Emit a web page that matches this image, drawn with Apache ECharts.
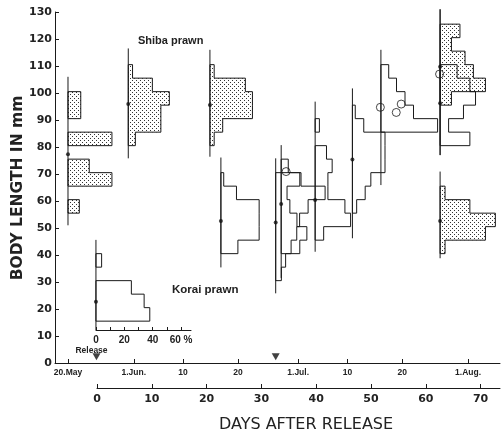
<!DOCTYPE html>
<html><head><meta charset="utf-8">
<script src="https://cdn.jsdelivr.net/npm/echarts@6/dist/echarts.min.js"></script>
<style>html,body{margin:0;padding:0;background:#fff}#c{width:503px;height:433px}</style>
</head><body><div id="c"></div>
<script>
// ---- axes ----
const dateTickDays   = [0, 12, 21, 31, 42, 51, 61, 73];          // days since 20 May
const dateTickLabels = ['20.May', '1.Jun.', '10', '20', '1.Jul.', '10', '20', '1.Aug.'];
const daysAfterTicks = [0, 10, 20, 30, 40, 50, 60, 70];
const pctTicks       = [0, 10, 20, 30, 40, 50, 60];
const pctLabels      = [0, 20, 40, 60];

// ---- samples (one histogram each), day = days since 20 May ----
const sampleDay      = [0, 11, 25.9, 27.9, 37.9, 38.9, 45.1, 51.9, 57.1, 67.9, 67.9, 67.9, 5.1];
const sampleShaded   = [true, true, true, false, false, false, false, false, false, true, false, true, false];
const sampleFirstBin = [55.5, 80.5, 80.5, 40.5, 30.5, 40.5, 45.5, 55.5, 85.5, 95.5, 80.5, 40.5, 15.5];
const samplePercent  = [
  [8, 0, 31, 15, 0, 31, 0, 9, 9],
  [5, 23, 23, 29, 17, 3],
  [3, 9, 30, 30, 25, 3],
  [12, 27, 27, 27, 11, 2],
  [4, 7, 17, 22, 15, 10, 8, 17],
  [7, 11, 13, 19, 31, 14, 5],
  [6, 25, 21, 9, 9, 12, 8, 0, 3],
  [3, 9, 13, 23, 23, 23, 8, 2],
  [40, 23, 17, 11, 5.5],
  [8, 32, 23.5, 17.6, 8, 14],
  [21, 6, 16.5, 25, 21, 12],
  [3.5, 32, 39, 21, 3.5],
  [38, 34, 25, 0, 4]
];
const sampleSpan = [[51, 106], [75.8, 116.5], [76.4, 116], [35.4, 76.1], [25.8, 75.8], [31.5, 80.7],
  [41.2, 96.8], [46.2, 101.7], [65.9, 116], [77, 131], [77, 131], [38.8, 70.9], [12.2, 45.6]];
const sampleMean = [77.3, 95.9, 95.6, 52.6, 52, 58.9, 60.4, 75.4, null, 109.7, 96.2, 52.6, 22.7];

const openCircleDay = [39.8, 57.0, 60.8, 59.9, 67.8];
const openCircleMM  = [70.9, 94.7, 95.9, 92.8, 107];
const markerDay = [5.2, 37.9];
const markerMM  = [2.3, 2.3];

const BIN = 5;
const PCT_DAYS = 1.417 / 5.48;   // horizontal scale of histogram bars (inset % axis)
const INK = '#1a1a1a';

// dotted pattern
const pc = document.createElement('canvas');
pc.width = 4; pc.height = 4;
const pctx = pc.getContext('2d');
pctx.fillStyle = '#fff'; pctx.fillRect(0, 0, 4, 4);
pctx.fillStyle = '#333';
pctx.fillRect(0, 0, 1, 1); pctx.fillRect(2, 2, 1, 1);
const dotted = { image: pc, repeat: 'repeat' };

function renderHist(params, api) {
  const i = params.dataIndex;
  const d = sampleDay[i];
  const children = [];
  const span = sampleSpan[i];
  const a = api.coord([d, span[0]]), b = api.coord([d, span[1]]);
  let run = [];
  const flush = () => {
    if (!run.length) return;
    const pts = [api.coord([d, run[0][0]])];
    run.forEach(([lo, p]) => {
      pts.push(api.coord([d + p * PCT_DAYS, lo]));
      pts.push(api.coord([d + p * PCT_DAYS, lo + BIN]));
    });
    pts.push(api.coord([d, run[run.length - 1][0] + BIN]));
    children.push({ type: 'polygon', shape: { points: pts },
      style: { fill: sampleShaded[i] ? dotted : 'none', stroke: INK, lineWidth: 1 } });
    run = [];
  };
  samplePercent[i].forEach((p, k) => {
    const lo = sampleFirstBin[i] + k * BIN;
    if (p > 0) run.push([lo, p]); else flush();
  });
  flush();
  children.push({ type: 'line', shape: { x1: a[0], y1: a[1], x2: b[0], y2: b[1] },
    style: { stroke: INK, lineWidth: 1 } });
  return { type: 'group', children };
}

const meanData = [];
sampleDay.forEach((d, i) => { if (sampleMean[i] != null) meanData.push([d, sampleMean[i]]); });

const chart = echarts.init(document.getElementById('c'), null, { renderer: 'canvas' });
chart.setOption({
  animation: false,
  backgroundColor: '#fff',
  grid: [
    { left: 55, right: 3, top: 12, bottom: 70 },
    { left: 97, right: 3, top: 387, bottom: 45 },
    { left: 96, width: 95, top: 329, bottom: 103 }
  ],
  xAxis: [
    { gridIndex: 0, type: 'value', min: -2.372, max: 78.83,
      axisLine: { onZero: false, lineStyle: { color: INK, width: 1 } },
      axisTick: { inside: true, length: 4, customValues: dateTickDays, lineStyle: { color: INK } },
      axisLabel: { customValues: dateTickDays, margin: 5, fontSize: 8.5, fontWeight: 'bold', fontFamily: 'Liberation Sans', color: '#222',
        formatter: v => { let k = 0, best = 1e9; dateTickDays.forEach((t, j) => { if (Math.abs(t - v) < best) { best = Math.abs(t - v); k = j; } }); return dateTickLabels[k]; } },
      splitLine: { show: false } },
    { gridIndex: 1, type: 'value', min: 0, max: 73.54,
      axisLine: { onZero: false, lineStyle: { color: INK, width: 1 } },
      axisTick: { inside: true, length: 4, customValues: daysAfterTicks, lineStyle: { color: INK } },
      axisLabel: { customValues: daysAfterTicks, margin: 6, fontSize: 11, fontWeight: 'bold', fontFamily: 'DejaVu Sans', color: '#222' },
      splitLine: { show: false } },
    { gridIndex: 2, type: 'value', min: 0, max: 67,
      axisLine: { onZero: false, lineStyle: { color: INK, width: 1 } },
      axisTick: { inside: true, length: 3, customValues: pctTicks, lineStyle: { color: INK } },
      axisLabel: { customValues: pctLabels, margin: 5, fontSize: 10, fontWeight: 'bold', fontFamily: 'Liberation Sans', color: '#222',
        formatter: v => (Math.round(v) === 60 ? '60 %' : String(Math.round(v))) },
      splitLine: { show: false } }
  ],
  yAxis: [
    { gridIndex: 0, type: 'value', min: 0, max: 130, interval: 10,
      axisLine: { show: true, onZero: false, lineStyle: { color: INK, width: 1 } },
      axisTick: { show: true, inside: true, length: 4, lineStyle: { color: INK } },
      axisLabel: { margin: 3, fontSize: 11, fontWeight: 'bold', fontFamily: 'DejaVu Sans', color: '#222' },
      splitLine: { show: false } },
    { gridIndex: 1, type: 'value', show: false },
    { gridIndex: 2, type: 'value', show: false }
  ],
  series: [
    { type: 'custom', xAxisIndex: 0, yAxisIndex: 0, renderItem: renderHist,
      data: sampleDay.map((d, i) => [d, sampleSpan[i][1]]), silent: true, clip: false, z: 2 },
    { type: 'scatter', xAxisIndex: 0, yAxisIndex: 0, data: meanData, symbol: 'circle', symbolSize: 4,
      itemStyle: { color: '#111' }, silent: true, z: 4 },
    { type: 'scatter', xAxisIndex: 0, yAxisIndex: 0, data: openCircleDay.map((d, i) => [d, openCircleMM[i]]),
      symbol: 'circle', symbolSize: 8, itemStyle: { color: 'rgba(255,255,255,0)', borderColor: INK, borderWidth: 1 },
      silent: true, z: 5 },
    { type: 'scatter', xAxisIndex: 0, yAxisIndex: 0, data: markerDay.map((d, i) => [d, markerMM[i]]),
      symbol: 'triangle', symbolRotate: 180, symbolSize: [8, 7], itemStyle: { color: '#111' }, silent: true, z: 4 }
  ],
  graphic: [
    { type: 'text', x: 138, y: 41, style: { text: 'Shiba prawn', font: 'bold 11px "Liberation Sans"', fill: '#222', textVerticalAlign: 'middle' } },
    { type: 'text', x: 172, y: 290, style: { text: 'Korai prawn', font: 'bold 11.5px "Liberation Sans"', fill: '#222', textVerticalAlign: 'middle' } },
    { type: 'text', x: 91.5, y: 351, style: { text: 'Release', font: 'bold 8.5px "Liberation Sans"', fill: '#222', textAlign: 'center', textVerticalAlign: 'middle' } },
    { type: 'text', x: 18, y: 188, rotation: Math.PI / 2, style: { text: 'BODY LENGTH IN mm', font: 'bold 15.5px "DejaVu Sans"', fill: '#222', textAlign: 'center', textVerticalAlign: 'middle' } },
    { type: 'text', x: 306, y: 425, style: { text: 'DAYS AFTER RELEASE', font: '16px "DejaVu Sans"', fill: '#222', textAlign: 'center', textVerticalAlign: 'middle' } }
  ]
});
</script></body></html>
